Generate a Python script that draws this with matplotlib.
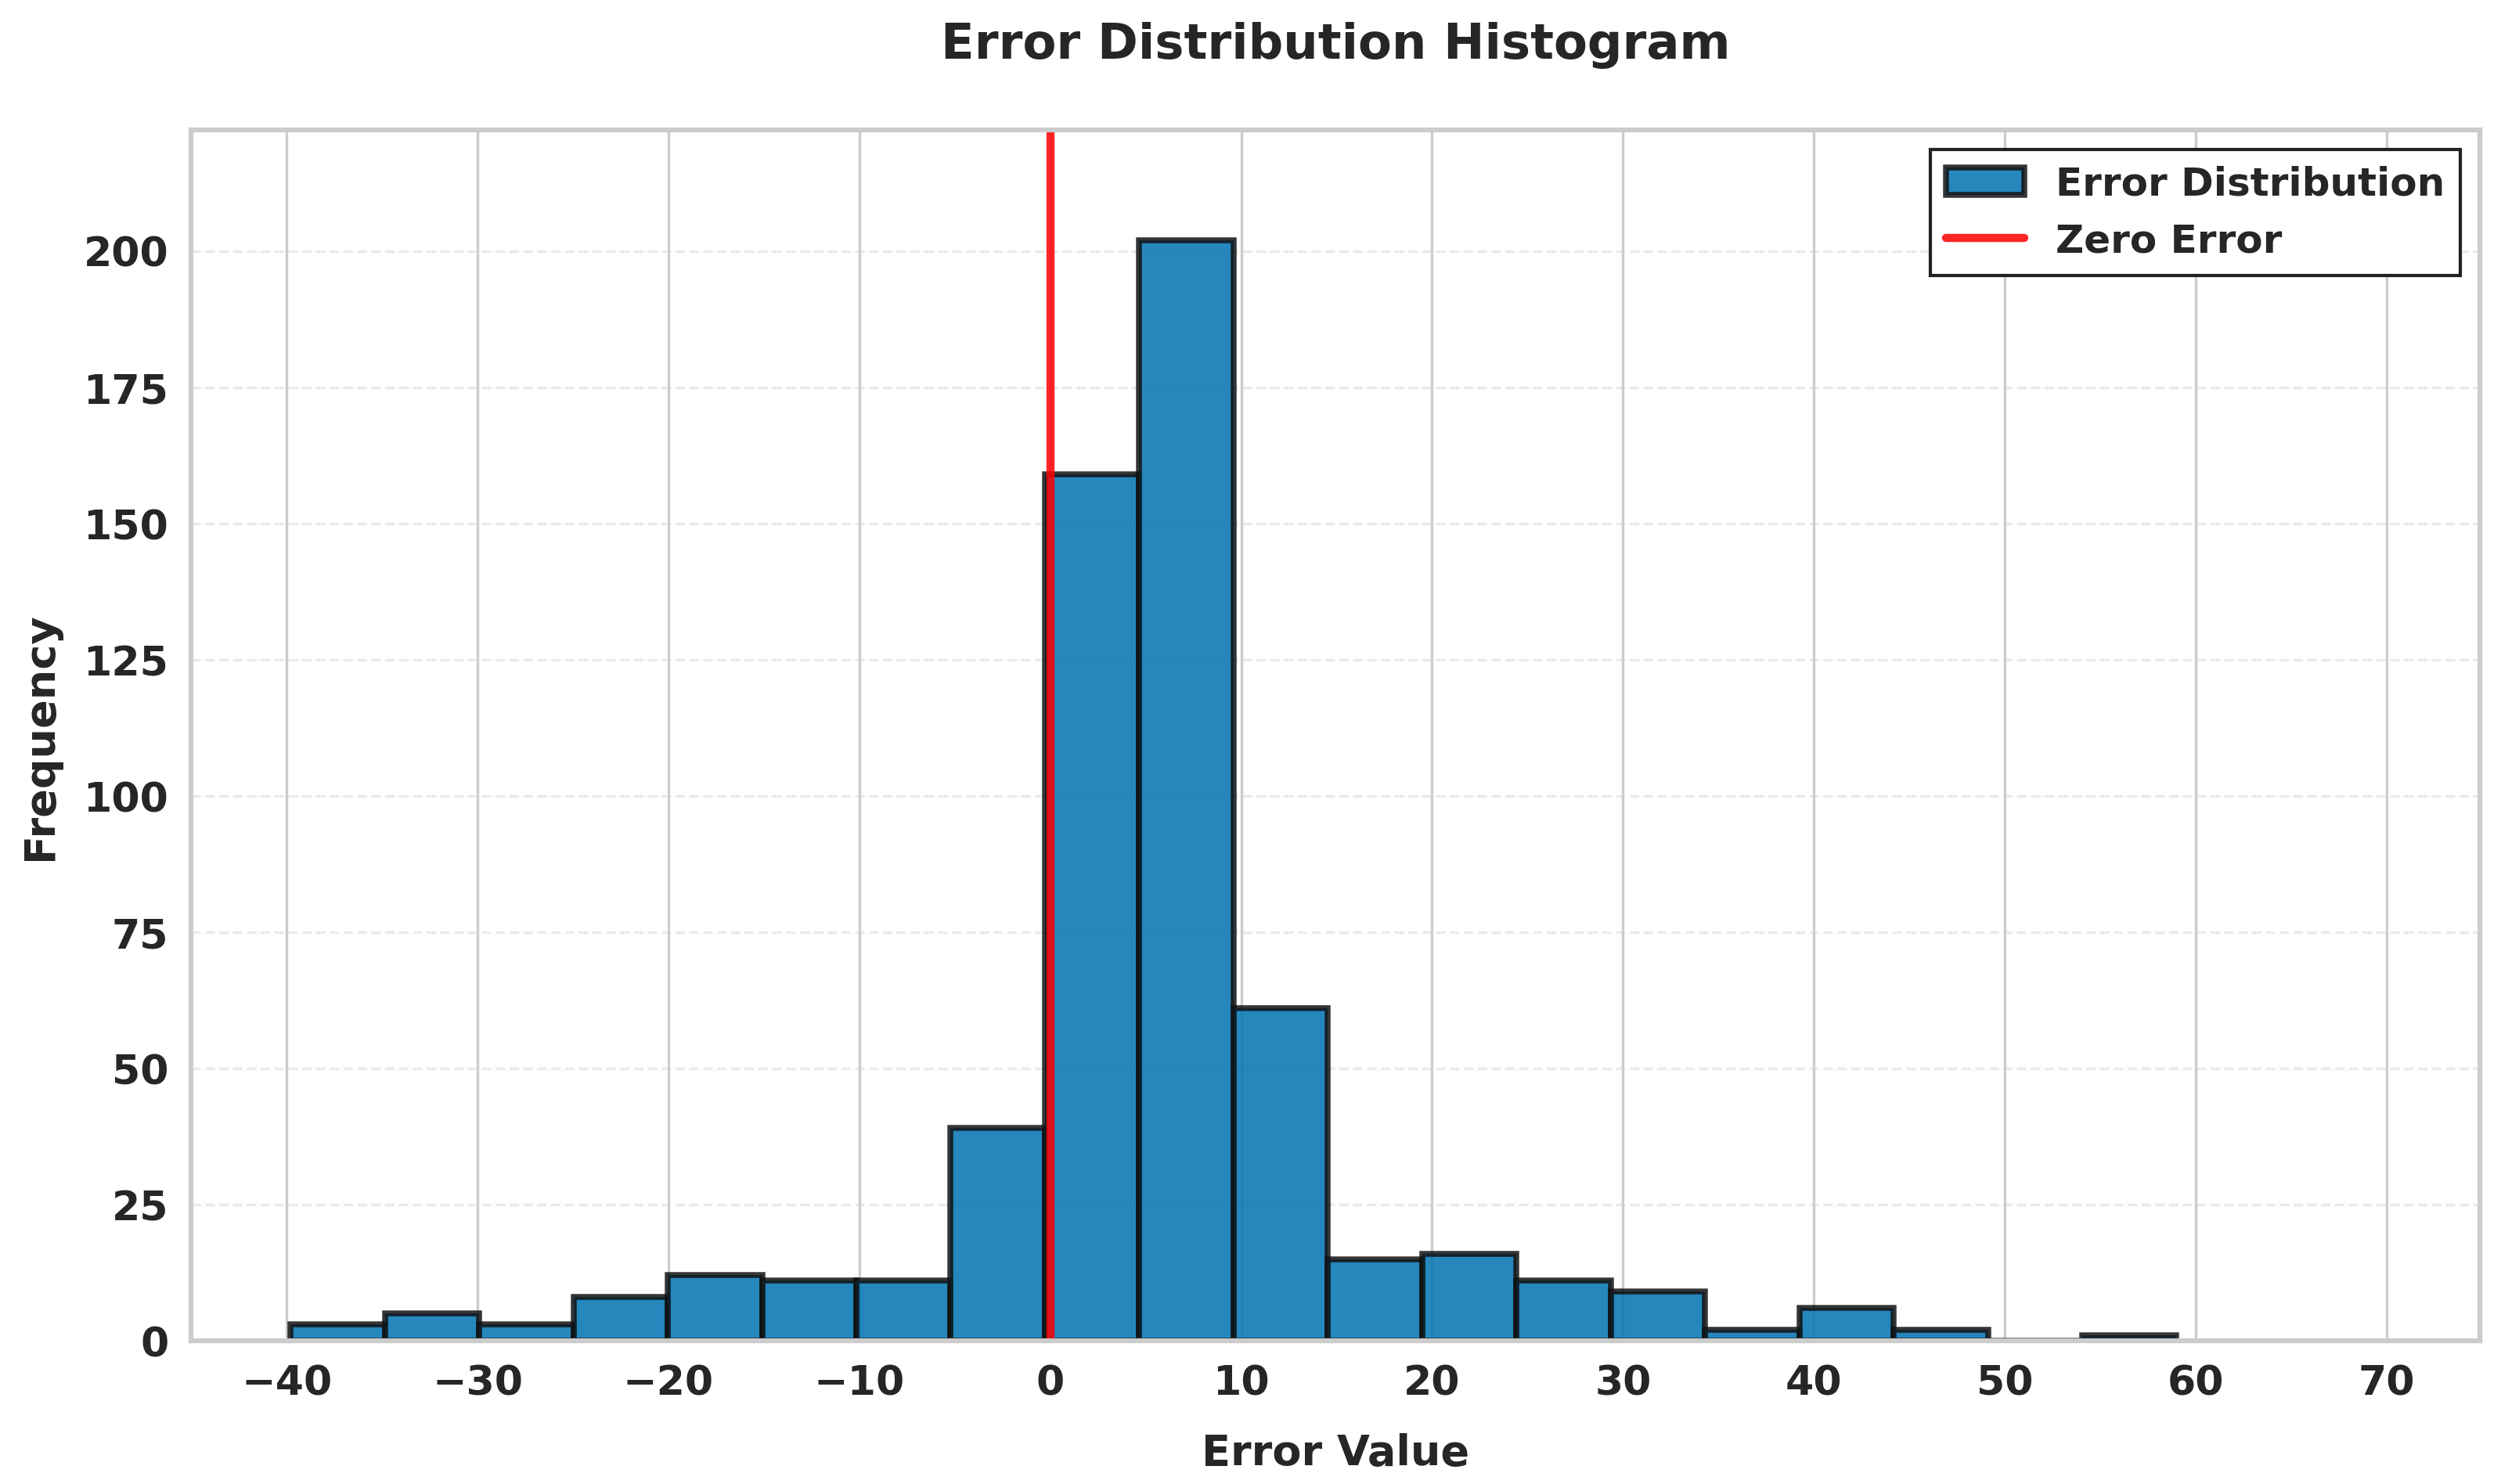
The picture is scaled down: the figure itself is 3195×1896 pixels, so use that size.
import matplotlib
matplotlib.use("Agg")
import matplotlib.pyplot as plt
import numpy as np
import seaborn as sns

# histogram: 20 equal bins
bin_edges = np.linspace(-39.8, 59.0, 21)
counts = [3, 5, 3, 8, 12, 11, 11, 39, 159, 202, 61, 15, 16, 11, 9, 2, 6, 2, 0, 1]
x_ticks = [-40, -30, -20, -10, 0, 10, 20, 30, 40, 50, 60, 70]
y_ticks = [0, 25, 50, 75, 100, 125, 150, 175, 200]

sns.set_style("whitegrid")
plt.rcParams["font.family"] = ["DejaVu Sans"]
plt.rcParams["font.weight"] = "bold"
plt.rcParams["axes.labelweight"] = "bold"
plt.rcParams["axes.titleweight"] = "bold"

fig, ax = plt.subplots(figsize=(10.65, 6.3233), dpi=300)
fig.subplots_adjust(left=0.0765, right=0.9916, top=0.912, bottom=0.0965)

ax.hist(bin_edges[:-1], bins=bin_edges, weights=counts, color="#0072B2",
        edgecolor="#111111", linewidth=1.8, alpha=0.85, label="Error Distribution")
ax.axvline(0, color="red", linewidth=2.5, alpha=0.85, label="Zero Error")

ax.set_title("Error Distribution Histogram", fontsize=15, pad=22)
ax.set_xlabel("Error Value", fontsize=13, labelpad=9)
ax.set_ylabel("Frequency", fontsize=13, labelpad=7)

ax.set_xlim(-45.0, 74.9)
ax.set_ylim(0, max(counts) * 1.1)
ax.set_xticks(x_ticks)
ax.set_yticks(y_ticks)
ax.tick_params(labelsize=12.5)

ax.grid(True, axis="y", linestyle="--", alpha=0.4)
for s in ax.spines.values():
    s.set_linewidth(1.5)
    s.set_color("#cccccc")

leg = ax.legend(loc="upper right", fontsize=12, fancybox=False, framealpha=1)
leg.get_frame().set_edgecolor("#222222")
leg.get_frame().set_linewidth(1.0)

fig.savefig("out.png", dpi=300)
